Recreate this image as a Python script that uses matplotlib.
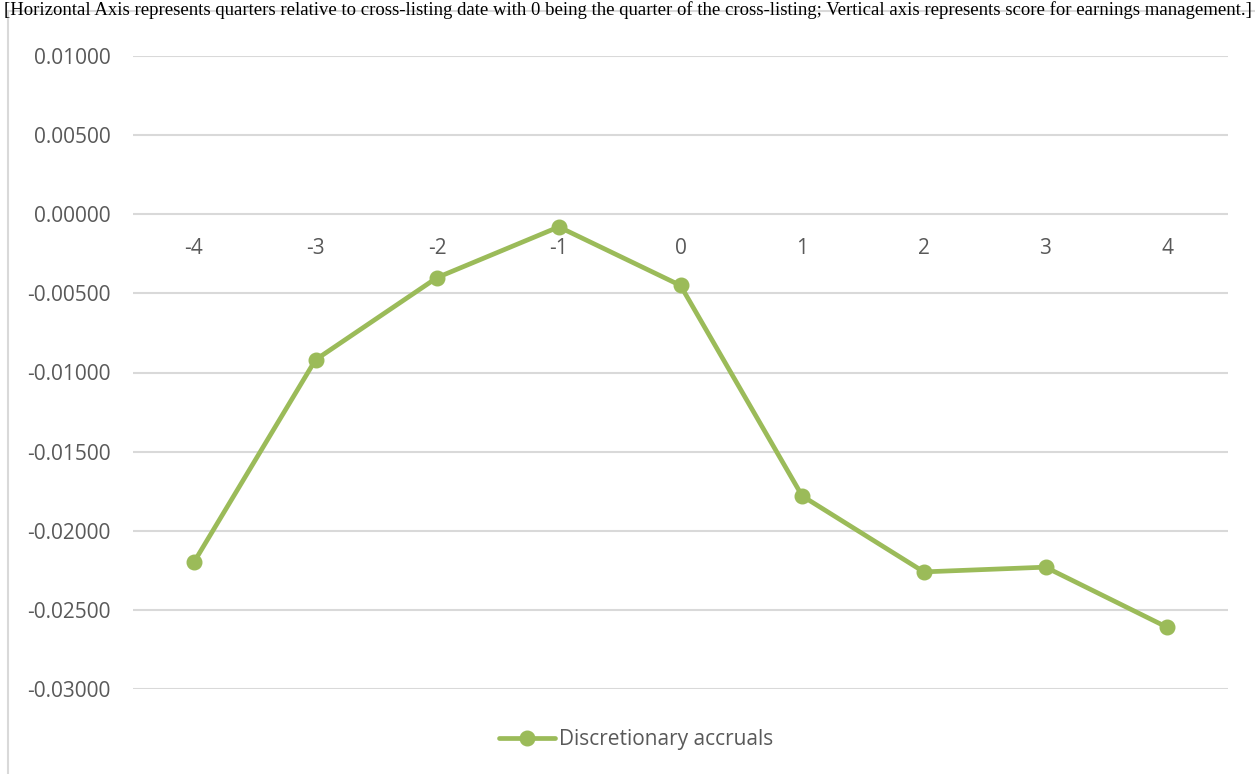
import matplotlib

matplotlib.use("Agg")
import matplotlib.pyplot as plt
from matplotlib.patches import Rectangle

# data
quarters = ["-4", "-3", "-2", "-1", "0", "1", "2", "3", "4"]
accruals = [-0.0220, -0.0092, -0.0040, -0.0008, -0.0045, -0.0178, -0.0226, -0.0223, -0.0261]
y_ticks = [0.01, 0.005, 0.0, -0.005, -0.01, -0.015, -0.02, -0.025, -0.03]

caption = ("[Horizontal Axis represents quarters relative to cross-listing date with 0 being the "
           "quarter of the cross-listing; Vertical axis represents score for earnings management.]")

GREEN = "#9BBB59"
GRID = "#D9D9D9"
TEXT = "#595959"
W, H = 1255, 774

plt.rcParams["font.family"] = ["Open Sans", "DejaVu Sans"]
fig = plt.figure(figsize=(W / 100, H / 100), dpi=100, facecolor="white")

# chart frame (runs off the right/bottom edge in the reference)
fig.patches.append(Rectangle((8 / W, -0.1), 1.2, 1 - 11 / H + 0.1, transform=fig.transFigure,
                             facecolor="none", edgecolor=GRID, linewidth=1.5))

# caption along the top edge
fig.text(0.5, 1 - 1 / H, caption, ha="center", va="top", fontsize=13.5,
         family="Liberation Serif", color="black")

ax = fig.add_axes([133 / W, 1 - 689 / H, (1228 - 133) / W, (689 - 56) / H])
x = list(range(len(quarters)))
ax.plot(x, accruals, color=GREEN, linewidth=3.4, marker="o", markersize=10.5,
        solid_capstyle="round", label="Discretionary accruals", zorder=3)

ax.set_xlim(-0.5, len(quarters) - 0.5)
ax.set_ylim(-0.03, 0.01)
ax.set_yticks(y_ticks)
ax.set_yticklabels(["%.5f" % v for v in y_ticks])
ax.yaxis.grid(True, color=GRID, linewidth=1.5)
ax.set_axisbelow(True)

ax.spines["bottom"].set_position(("data", 0))
for s in ax.spines.values():
    s.set_visible(False)
ax.set_xticks(x)
ax.set_xticklabels(quarters)
ax.tick_params(axis="x", length=0, pad=17, labelsize=15, labelcolor=TEXT)
ax.tick_params(axis="y", length=0, pad=16, labelsize=15, labelcolor=TEXT)

# legend is centred on the whole chart area, not the plot area
leg_x = (636 - 133) / (1228 - 133)
leg_y = (1 - 740 / H - (1 - 689 / H)) / ((689 - 56) / H)
ax.legend(loc="center", bbox_to_anchor=(leg_x, leg_y), frameon=False, fontsize=15,
          handlelength=2.7, handletextpad=0.2, labelcolor=TEXT)

fig.savefig("out.png", dpi=100, facecolor="white")
